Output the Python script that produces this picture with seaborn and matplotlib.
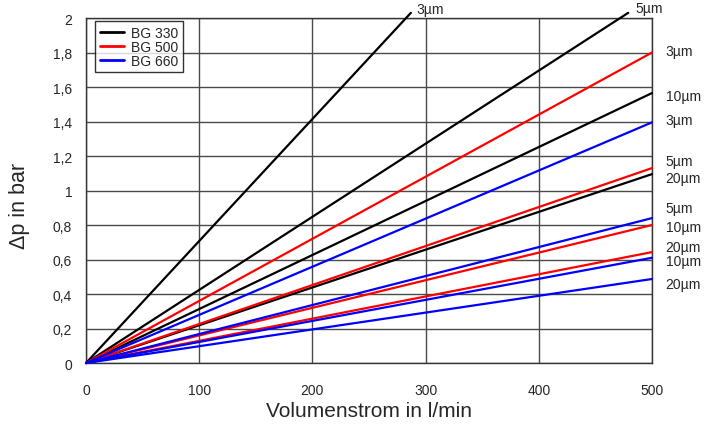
import matplotlib
matplotlib.use("Agg")
import matplotlib.pyplot as plt
import seaborn as sns
import pandas as pd
from matplotlib.lines import Line2D

# Filter sizes and grades
sizes = ["BG 330", "BG 500", "BG 660"]
grades = ["3µm", "5µm", "10µm", "20µm"]

# End point of each characteristic line (flow l/min, Δp bar); all start at origin
bg330_flow = [287, 479, 500, 500]
bg330_dp = [2.03, 2.03, 1.565, 1.095]
bg500_flow = [500, 500, 500, 500]
bg500_dp = [1.80, 1.13, 0.80, 0.643]
bg660_flow = [500, 500, 500, 500]
bg660_dp = [1.395, 0.84, 0.61, 0.487]

# Label anchors next to the line ends
label_text = ["3µm", "5µm", "3µm", "10µm", "3µm", "5µm", "20µm", "5µm", "10µm", "20µm", "10µm", "20µm"]
label_x = [292, 485, 512, 512, 512, 512, 512, 512, 512, 512, 512, 512]
label_y = [2.05, 2.06, 1.81, 1.55, 1.41, 1.17, 1.07, 0.90, 0.79, 0.67, 0.59, 0.46]

colors = {"BG 330": "#000000", "BG 500": "#ff0000", "BG 660": "#0000ff"}

rows = []
for size, flows, dps in [("BG 330", bg330_flow, bg330_dp),
                         ("BG 500", bg500_flow, bg500_dp),
                         ("BG 660", bg660_flow, bg660_dp)]:
    for g, f, d in zip(grades, flows, dps):
        rows.append({"size": size, "grade": g, "flow": 0.0, "dp": 0.0})
        rows.append({"size": size, "grade": g, "flow": f, "dp": d})
df = pd.DataFrame(rows)

sns.set_theme(style="white")
plt.rcParams["font.family"] = ["Liberation Sans", "DejaVu Sans"]

fig = plt.figure(figsize=(7.04, 4.35), dpi=100)
ax = fig.add_axes([0.1222, 0.1632, 0.9261 - 0.1222, 0.9563 - 0.1632])

sns.lineplot(data=df, x="flow", y="dp", hue="size", units="grade", estimator=None,
             palette=colors, linewidth=1.6, legend=False, ax=ax, sort=False)
for ln in ax.get_lines():
    ln.set_clip_on(False)
    ln.set_zorder(3)

ax.set_xlim(0, 500)
ax.set_ylim(0, 2)
ax.set_xticks(range(0, 501, 100))
yt = [i * 0.2 for i in range(11)]
ax.set_yticks(yt)
ax.set_yticklabels(["0", "0,2", "0,4", "0,6", "0,8", "1", "1,2", "1,4", "1,6", "1,8", "2"])
ax.grid(True, color="#4a4a4a", linewidth=1.0)
ax.set_axisbelow(True)
for s in ax.spines.values():
    s.set_color("#333333")
    s.set_linewidth(1.0)
ax.tick_params(axis="both", which="both", direction="out", width=1,
               color="#333333", labelsize=10)
ax.tick_params(axis="y", length=6, pad=4)
ax.tick_params(axis="x", length=3.5, pad=11)

ax.set_xlabel("Volumenstrom in l/min", fontsize=15)
ax.xaxis.set_label_coords(0.5, -0.11)
ax.set_ylabel("Δp in bar", fontsize=15.5)
ax.yaxis.set_label_coords(-0.099, 0.457)

for t, x, y in zip(label_text, label_x, label_y):
    ax.text(x, y, t, fontsize=10, ha="left", va="center", clip_on=False)

handles = [Line2D([], [], color=colors[s], linewidth=2) for s in sizes]
leg = ax.legend(handles, sizes, loc="upper left", bbox_to_anchor=(0.016, 0.992),
                fontsize=10, frameon=True, fancybox=False, handlelength=1.7,
                handletextpad=0.5, labelspacing=0.0, borderpad=0.35, borderaxespad=0)
leg.get_frame().set_edgecolor("#000000")
leg.get_frame().set_linewidth(1.0)

fig.savefig("out.png", dpi=100)
